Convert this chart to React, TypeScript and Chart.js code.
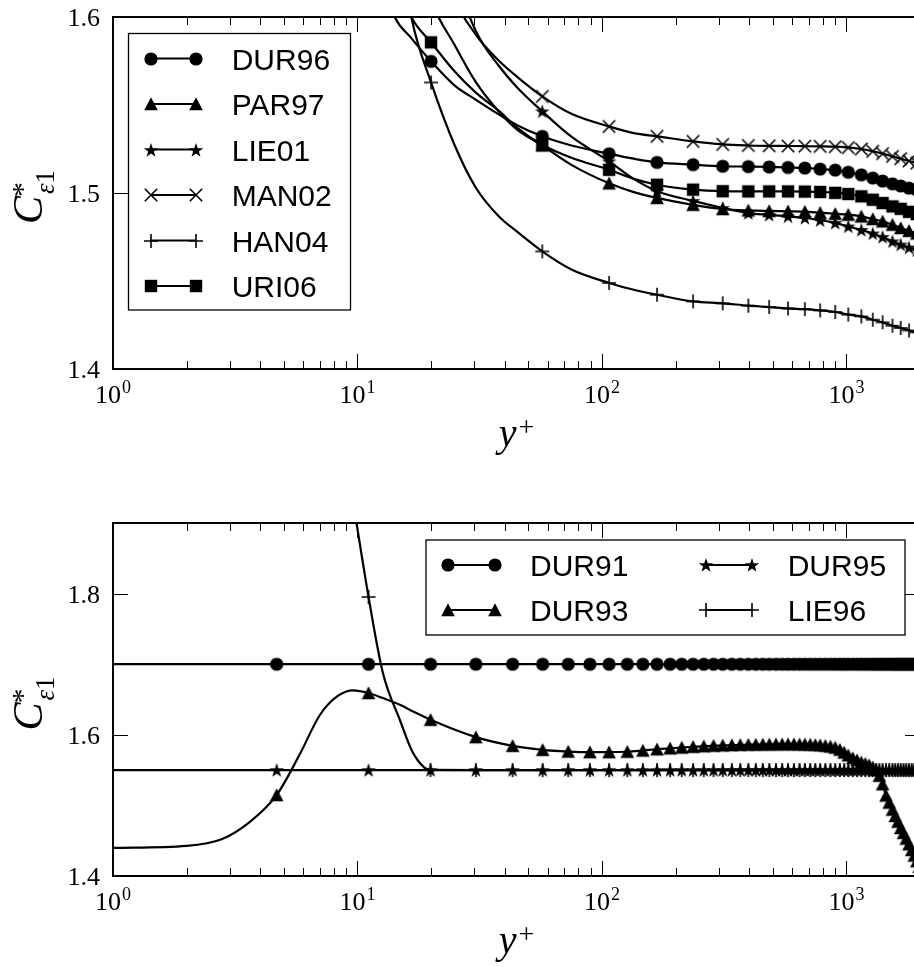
import React, { useEffect, useRef } from 'react';
import { Chart, registerables } from 'chart.js';
Chart.register(...registerables);

// ---------------- top panel data ----------------
const topX = [12, 14.2, 16.6, 20, 25, 30.5, 38, 45, 57, 75, 107, 135, 168, 236, 312, 397, 483, 577, 676, 781, 900, 1018, 1151, 1282, 1406, 1543, 1668, 1804, 1940];
const topMarkerX = [20, 57, 107, 168, 236, 312, 397, 483, 577, 676, 781, 900, 1018, 1151, 1282, 1406, 1543, 1668, 1804, 1940];
const dur96 = [1.63, 1.600, 1.588, 1.5748, 1.561, 1.553, 1.5445, 1.5385, 1.5322, 1.527, 1.5223, 1.5195, 1.5174, 1.5161, 1.5152, 1.5150, 1.5148, 1.5145, 1.5142, 1.5136, 1.5130, 1.5118, 1.5103, 1.5085, 1.5068, 1.5052, 1.5040, 1.5028, 1.5018];
const par97 = [1.78, 1.71, 1.655, 1.610, 1.584, 1.563, 1.546, 1.536, 1.527, 1.516, 1.5055, 1.5005, 1.4972, 1.4933, 1.4909, 1.4901, 1.4898, 1.4896, 1.4894, 1.4888, 1.4882, 1.4877, 1.4867, 1.4852, 1.4839, 1.4820, 1.4801, 1.4785, 1.4770];
const lie01 = [null, null, 1.76, 1.70, 1.626, 1.592, 1.572, 1.560, 1.5464, 1.532, 1.518, 1.508, 1.501, 1.4955, 1.4915, 1.4886, 1.4876, 1.4867, 1.4858, 1.4845, 1.4830, 1.4810, 1.4790, 1.4770, 1.4750, 1.4725, 1.4707, 1.4690, 1.4675];
const man02 = [null, null, 1.72, 1.672, 1.612, 1.590, 1.575, 1.566, 1.5549, 1.545, 1.5378, 1.534, 1.5322, 1.5293, 1.5276, 1.5270, 1.5268, 1.5267, 1.5266, 1.5265, 1.5263, 1.5258, 1.5250, 1.5237, 1.5224, 1.5208, 1.5195, 1.5182, 1.5170];
const han04 = [1.75, 1.66, 1.600, 1.5628, 1.527, 1.503, 1.4865, 1.478, 1.4668, 1.4565, 1.4489, 1.4450, 1.4422, 1.4384, 1.4373, 1.4360, 1.4352, 1.4344, 1.4340, 1.4333, 1.4324, 1.4309, 1.4299, 1.4280, 1.4265, 1.4246, 1.4233, 1.4219, 1.4208];
const uri06 = [1.67, 1.625, 1.600, 1.5856, 1.569, 1.557, 1.5465, 1.537, 1.5274, 1.520, 1.5132, 1.508, 1.5047, 1.5019, 1.5010, 1.5009, 1.5009, 1.5009, 1.5008, 1.5006, 1.5001, 1.4994, 1.4981, 1.4962, 1.4943, 1.4924, 1.4910, 1.4893, 1.4880];
const topLabels = ['DUR96', 'PAR97', 'LIE01', 'MAN02', 'HAN04', 'URI06'];

// ---------------- bottom panel data ----------------
const bottomX = [1, 2, 2.78, 3.63, 4.67, 5.8, 7.03, 8.33, 9.6, 11.1, 12.7, 14.9, 16.9, 19.9, 30.5, 43.1, 57.2, 72.8, 89.3, 107, 127, 147, 168, 190, 212, 236, 261, 286, 312, 340, 368, 397, 426, 455, 484, 515, 546, 577, 610, 643, 676, 711, 746, 781, 820, 860, 900, 940, 979, 1018, 1062, 1106, 1151, 1195, 1238, 1282, 1323, 1364, 1406, 1452, 1497, 1543, 1585, 1626, 1668, 1713, 1758, 1804, 1850, 1895, 1940, 1985];
const bottomMarkerX = [4.67, 11.1, 19.9, 30.5, 43.1, 57.2, 72.8, 89.3, 107, 127, 147, 168, 190, 212, 236, 261, 286, 312, 340, 368, 397, 426, 455, 484, 515, 546, 577, 610, 643, 676, 711, 746, 781, 820, 860, 900, 940, 979, 1018, 1062, 1106, 1151, 1195, 1238, 1282, 1323, 1364, 1406, 1452, 1497, 1543, 1585, 1626, 1668, 1713, 1758, 1804, 1850, 1895, 1940, 1985];
const dur91 = [1.7, 1.7, 1.7, 1.7, 1.7, 1.7, 1.7, 1.7, 1.7, 1.7, 1.7, 1.7, 1.7, 1.7, 1.7, 1.7, 1.7, 1.7, 1.7, 1.7, 1.7, 1.7, 1.7, 1.7, 1.7, 1.7, 1.7, 1.7, 1.7, 1.7, 1.7, 1.7, 1.7, 1.7, 1.7, 1.7, 1.7, 1.7, 1.7, 1.7, 1.7, 1.7, 1.7, 1.7, 1.7, 1.7, 1.7, 1.7, 1.7, 1.7, 1.7, 1.7, 1.7, 1.7, 1.7, 1.7, 1.7, 1.7, 1.7, 1.7, 1.7, 1.7, 1.7, 1.7, 1.7, 1.7, 1.7, 1.7, 1.7, 1.7, 1.7, 1.7];
const dur93 = [1.4398, 1.4427, 1.452, 1.4768, 1.5147, 1.572, 1.6284, 1.6554, 1.663, 1.6592, 1.652, 1.6427, 1.633, 1.6213, 1.5967, 1.5844, 1.5787, 1.5763, 1.5754, 1.5754, 1.576, 1.5777, 1.5795, 1.5808, 1.582, 1.583, 1.5838, 1.5845, 1.585, 1.5854, 1.5858, 1.586, 1.5862, 1.5864, 1.5865, 1.5866, 1.5867, 1.5867, 1.5867, 1.5866, 1.5864, 1.5862, 1.5858, 1.5852, 1.5845, 1.5835, 1.582, 1.579, 1.575, 1.571, 1.567, 1.564, 1.561, 1.559, 1.557, 1.554, 1.550, 1.542, 1.530, 1.514, 1.504, 1.494, 1.485, 1.477, 1.468, 1.461, 1.453, 1.445, 1.437, 1.429, 1.421, 1.413];
const dur95 = [1.55, 1.55, 1.55, 1.55, 1.55, 1.55, 1.55, 1.55, 1.55, 1.55, 1.55, 1.55, 1.55, 1.55, 1.55, 1.55, 1.55, 1.55, 1.55, 1.55, 1.55, 1.55, 1.55, 1.55, 1.55, 1.55, 1.55, 1.55, 1.55, 1.55, 1.55, 1.55, 1.55, 1.55, 1.55, 1.55, 1.55, 1.55, 1.55, 1.55, 1.55, 1.55, 1.55, 1.55, 1.55, 1.55, 1.55, 1.55, 1.55, 1.55, 1.55, 1.55, 1.55, 1.55, 1.55, 1.55, 1.55, 1.55, 1.55, 1.55, 1.55, 1.55, 1.55, 1.55, 1.55, 1.55, 1.55, 1.55, 1.55, 1.55, 1.55, 1.55];
const lie96 = [null, null, null, null, null, null, null, null, 1.93, 1.7952, 1.688, 1.6213, 1.574, 1.5502, 1.55, 1.55, 1.55, 1.55, 1.55, 1.55, 1.55, 1.55, 1.55, 1.55, 1.55, 1.55, 1.55, 1.55, 1.55, 1.55, 1.55, 1.55, 1.55, 1.55, 1.55, 1.55, 1.55, 1.55, 1.55, 1.55, 1.55, 1.55, 1.55, 1.55, 1.55, 1.55, 1.55, 1.55, 1.55, 1.55, 1.55, 1.55, 1.55, 1.55, 1.55, 1.55, 1.55, 1.55, 1.55, 1.55, 1.55, 1.55, 1.55, 1.55, 1.55, 1.55, 1.55, 1.55, 1.55, 1.55, 1.55, 1.55];
const bottomLabels = ['DUR91', 'DUR93', 'DUR95', 'LIE96'];

// ---------------- axes ----------------
const xMajorTicks = [1, 10, 100, 1000];
const xMinorTicks = [2, 3, 4, 5, 6, 7, 8, 9, 20, 30, 40, 50, 60, 70, 80, 90, 200, 300, 400, 500, 600, 700, 800, 900, 2000];
const topYTicks = [1.4, 1.5, 1.6];
const bottomYTicks = [1.4, 1.6, 1.8];

type Kind = 'circle' | 'triangle' | 'star' | 'x' | 'plus' | 'square';
const markerCache: Record<string, HTMLCanvasElement> = {};
function marker(kind: Kind): HTMLCanvasElement {
  if (markerCache[kind]) return markerCache[kind];
  const S = 18, m = 9;
  const c = document.createElement('canvas');
  c.width = S; c.height = S;
  const g = c.getContext('2d')!;
  g.fillStyle = '#000'; g.strokeStyle = '#000'; g.lineWidth = 1.6;
  g.beginPath();
  if (kind === 'circle') { g.arc(m, m, 6.6, 0, Math.PI * 2); g.fill(); }
  else if (kind === 'square') { g.rect(m - 6.2, m - 6.2, 12.4, 12.4); g.fill(); }
  else if (kind === 'triangle') { g.moveTo(m, m - 6.8); g.lineTo(m + 6.8, m + 6.2); g.lineTo(m - 6.8, m + 6.2); g.closePath(); g.fill(); }
  else if (kind === 'star') {
    for (let k = 0; k < 10; k++) {
      const r = k % 2 === 0 ? 7.6 : 3.0;
      const a = -Math.PI / 2 + (k * Math.PI) / 5;
      const px = m + r * Math.cos(a), py = m + 0.6 + r * Math.sin(a);
      if (k === 0) g.moveTo(px, py); else g.lineTo(px, py);
    }
    g.closePath(); g.fill();
  } else if (kind === 'x') {
    g.moveTo(m - 6.2, m - 6.2); g.lineTo(m + 6.2, m + 6.2); g.moveTo(m + 6.2, m - 6.2); g.lineTo(m - 6.2, m + 6.2); g.stroke();
  } else {
    g.moveTo(m - 7, m); g.lineTo(m + 7, m); g.moveTo(m, m - 7); g.lineTo(m, m + 7); g.stroke();
  }
  markerCache[kind] = c;
  return c;
}

interface Series { label: string; values: (number | null)[]; kind: Kind; }
interface LegendEntry { series: number; rowY: number; x0: number; x1: number; textX: number; }
interface Panel {
  xs: number[]; markerX: number[]; series: Series[];
  yMin: number; yMax: number; yTicks: number[];
  padTop: number; xHeight: number; canvasH: number;
  legendBox: [number, number, number, number];
  legend: LegendEntry[];
}

const serif = '"Liberation Serif", "Times New Roman", serif';
const sans = '"Liberation Sans", Arial, sans-serif';

function decor(panel: Panel) {
  return {
    id: 'decor',
    afterDraw(chart: any) {
      const ctx: CanvasRenderingContext2D = chart.ctx;
      const { left, right, top, bottom } = chart.chartArea;
      const xs = chart.scales.x, ys = chart.scales.y;
      ctx.save();
      ctx.strokeStyle = '#000'; ctx.fillStyle = '#000';
      // ticks
      ctx.lineWidth = 1;
      const xt = (v: number, len: number) => {
        const p = Math.round(xs.getPixelForValue(v)) + 0.5;
        ctx.beginPath();
        ctx.moveTo(p, bottom); ctx.lineTo(p, bottom - len);
        ctx.moveTo(p, top); ctx.lineTo(p, top + len);
        ctx.stroke();
      };
      xMajorTicks.forEach(v => xt(v, 15));
      xMinorTicks.forEach(v => xt(v, 8));
      panel.yTicks.forEach(v => {
        const p = Math.round(ys.getPixelForValue(v)) + 0.5;
        ctx.beginPath();
        ctx.moveTo(left, p); ctx.lineTo(left + 15, p);
        ctx.moveTo(right, p); ctx.lineTo(right - 15, p);
        ctx.stroke();
      });
      // spines
      ctx.lineWidth = 2;
      ctx.strokeRect(left, top, right - left, bottom - top);
      // y tick labels
      ctx.font = `26px ${serif}`;
      ctx.textAlign = 'right'; ctx.textBaseline = 'alphabetic';
      panel.yTicks.forEach(v => ctx.fillText(v.toFixed(1), left - 13, ys.getPixelForValue(v) + 9));
      // x tick labels 10^k
      ctx.textAlign = 'left';
      xMajorTicks.forEach(v => {
        const exp = String(Math.round(Math.log10(v)));
        const cx = xs.getPixelForValue(v);
        ctx.font = `26px ${serif}`; const w1 = ctx.measureText('10').width;
        ctx.font = `18px ${serif}`; const w2 = ctx.measureText(exp).width;
        const x0 = cx - (w1 + w2 + 1) / 2;
        const base = bottom + 34;
        ctx.font = `26px ${serif}`; ctx.fillText('10', x0, base);
        ctx.font = `18px ${serif}`; ctx.fillText(exp, x0 + w1 + 1, base - 10);
      });
      // x title y+
      {
        const cx = (left + right) / 2;
        const base = bottom + 77;
        ctx.font = `italic 40px ${serif}`; const wy = ctx.measureText('y').width;
        ctx.font = `28px ${serif}`; const wp = ctx.measureText('+').width;
        const x0 = cx - (wy + wp + 2) / 2;
        ctx.font = `italic 40px ${serif}`; ctx.fillText('y', x0, base);
        ctx.font = `28px ${serif}`; ctx.fillText('+', x0 + wy + 2, base - 10);
      }
      // y title C*_{eps1}
      {
        const cy = (top + bottom) / 2 + 4;
        ctx.save();
        ctx.translate(42, cy);
        ctx.rotate(-Math.PI / 2);
        ctx.font = `italic 42px ${serif}`; const wc = ctx.measureText('C').width;
        ctx.font = `italic 27px ${serif}`; const we = ctx.measureText('ε').width;
        ctx.font = `27px ${serif}`; const w1 = ctx.measureText('1').width;
        const total = wc + 2 + we + w1;
        const x0 = -total / 2;
        ctx.textAlign = 'left';
        ctx.font = `italic 42px ${serif}`; ctx.fillText('C', x0, 0);
        ctx.font = `30px ${serif}`; ctx.fillText('*', x0 + wc - 1, -10);
        ctx.font = `italic 27px ${serif}`; ctx.fillText('ε', x0 + wc + 2, 12);
        ctx.font = `27px ${serif}`; ctx.fillText('1', x0 + wc + 2 + we, 12);
        ctx.restore();
      }
      // legend
      const [bx, by, bw, bh] = panel.legendBox;
      ctx.fillStyle = '#fff';
      ctx.fillRect(bx, by, bw, bh);
      ctx.fillStyle = '#000';
      ctx.lineWidth = 1.3;
      ctx.strokeRect(bx, by, bw, bh);
      ctx.font = `30px ${sans}`;
      ctx.textAlign = 'left';
      panel.legend.forEach(e => {
        const s = panel.series[e.series];
        ctx.lineWidth = 2;
        ctx.beginPath(); ctx.moveTo(e.x0, e.rowY); ctx.lineTo(e.x1, e.rowY); ctx.stroke();
        const img = marker(s.kind);
        ctx.drawImage(img, Math.round(e.x0 - img.width / 2), Math.round(e.rowY - img.height / 2));
        ctx.drawImage(img, Math.round(e.x1 - img.width / 2), Math.round(e.rowY - img.height / 2));
        ctx.fillText(s.label, e.textX, e.rowY + 11);
      });
      ctx.restore();
    },
  };
}

function makeConfig(panel: Panel): any {
  const markSet = new Set(panel.markerX);
  const n = panel.series.length;
  return {
    type: 'line',
    data: {
      datasets: panel.series.map((s, i) => ({
        label: s.label,
        data: panel.xs.map((x, j) => ({ x, y: s.values[j] })).filter(p => p.y !== null),
        borderColor: '#000',
        backgroundColor: '#000',
        borderWidth: 2.2,
        fill: false,
        cubicInterpolationMode: 'monotone',
        pointStyle: marker(s.kind),
        pointRadius: (c: any) => (c.raw && markSet.has(c.raw.x) ? 6 : 0),
        pointHoverRadius: 0,
        pointBorderWidth: 0,
        clip: 0,
        order: n - i,
      })),
    },
    options: {
      animation: false,
      responsive: false,
      maintainAspectRatio: false,
      events: [],
      layout: { padding: { left: 0, right: 20, top: panel.padTop, bottom: 0 } },
      plugins: { legend: { display: false }, tooltip: { enabled: false } },
      scales: {
        x: {
          type: 'logarithmic', min: 1, max: 2000,
          grid: { display: false }, border: { display: false }, ticks: { display: false },
          afterFit: (s: any) => { s.height = panel.xHeight; },
        },
        y: {
          type: 'linear', min: panel.yMin, max: panel.yMax,
          grid: { display: false }, border: { display: false }, ticks: { display: false },
          afterFit: (s: any) => { s.width = 113; },
        },
      },
    },
    plugins: [decor(panel)],
  };
}

const topPanel: Panel = {
  xs: topX, markerX: topMarkerX,
  series: [
    { label: topLabels[0], values: dur96, kind: 'circle' },
    { label: topLabels[1], values: par97, kind: 'triangle' },
    { label: topLabels[2], values: lie01, kind: 'star' },
    { label: topLabels[3], values: man02, kind: 'x' },
    { label: topLabels[4], values: han04, kind: 'plus' },
    { label: topLabels[5], values: uri06, kind: 'square' },
  ],
  yMin: 1.4, yMax: 1.6, yTicks: topYTicks,
  padTop: 17, xHeight: 111, canvasH: 480,
  legendBox: [128.5, 33.5, 222, 276.5],
  legend: [0, 1, 2, 3, 4, 5].map(i => ({ series: i, rowY: 58.5 + 45.5 * i, x0: 150.7, x1: 196, textX: 231.7 })),
};

const bottomPanel: Panel = {
  xs: bottomX, markerX: bottomMarkerX,
  series: [
    { label: bottomLabels[0], values: dur91, kind: 'circle' },
    { label: bottomLabels[1], values: dur93, kind: 'triangle' },
    { label: bottomLabels[2], values: dur95, kind: 'star' },
    { label: bottomLabels[3], values: lie96, kind: 'plus' },
  ],
  yMin: 1.4, yMax: 1.9, yTicks: bottomYTicks,
  padTop: 43, xHeight: 91, canvasH: 487,
  legendBox: [426, 60, 479, 95],
  legend: [
    { series: 0, rowY: 85, x0: 448.3, x1: 495, textX: 530 },
    { series: 1, rowY: 130, x0: 448.3, x1: 495, textX: 530 },
    { series: 2, rowY: 85, x0: 706, x1: 751.7, textX: 787.7 },
    { series: 3, rowY: 130, x0: 706, x1: 751.7, textX: 787.7 },
  ],
};

export default function App() {
  const topRef = useRef<HTMLCanvasElement>(null);
  const botRef = useRef<HTMLCanvasElement>(null);
  useEffect(() => {
    const c1 = new Chart(topRef.current!, makeConfig(topPanel));
    const c2 = new Chart(botRef.current!, makeConfig(bottomPanel));
    return () => { c1.destroy(); c2.destroy(); };
  }, []);
  return (
    <div style={{ position: 'fixed', left: 0, top: 0, width: 914, height: 967, overflow: 'hidden', background: '#fff' }}>
      <canvas ref={topRef} width={940} height={480} style={{ position: 'absolute', left: 0, top: 0, width: 940, height: 480 }} />
      <canvas ref={botRef} width={940} height={487} style={{ position: 'absolute', left: 0, top: 480, width: 940, height: 487 }} />
    </div>
  );
}
